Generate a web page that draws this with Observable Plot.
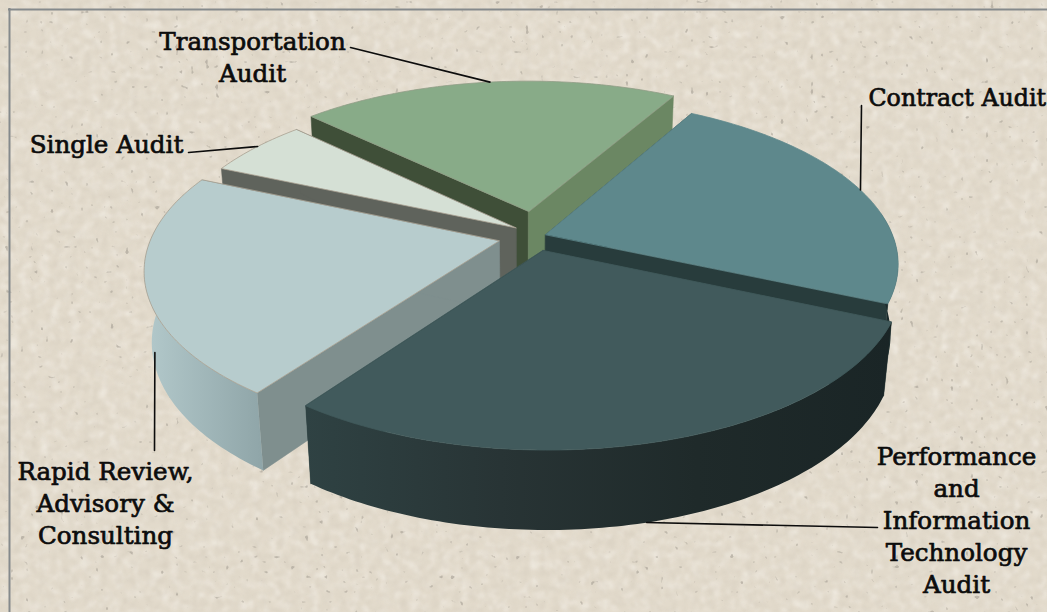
<!DOCTYPE html>
<html>
<head>
<meta charset="utf-8">
<script src="https://cdn.jsdelivr.net/npm/d3@7"></script>
<script src="https://cdn.jsdelivr.net/npm/@observablehq/plot@0.6"></script>
<style>
  html, body { margin: 0; padding: 0; background: #e3dbcd; overflow: hidden; }
  #stage { position: relative; width: 1047px; height: 612px; overflow: hidden; }
  #stage svg { position: absolute; left: 0; top: 0; }
</style>
</head>
<body>
<div id="stage">
  <!-- Mottled paper behind the chart -->
  <svg id="paper" width="1047" height="612">
    <defs>
      <filter id="mottle" x="0" y="0" width="100%" height="100%">
        <feTurbulence type="fractalNoise" baseFrequency="0.13" numOctaves="3" seed="7"/>
        <feColorMatrix type="matrix" values="0 0 0 0 0.62  0 0 0 0 0.56  0 0 0 0 0.47  1.3 1.3 0 0 -1.12"/>
        <feGaussianBlur stdDeviation="0.8"/>
      </filter>
      <filter id="flecks" x="0" y="0" width="100%" height="100%">
        <feTurbulence type="fractalNoise" baseFrequency="0.1" numOctaves="3" seed="41"/>
        <feColorMatrix type="matrix" values="0 0 0 0 0.95  0 0 0 0 0.92  0 0 0 0 0.87  1.3 1.3 0 0 -1.15"/>
        <feGaussianBlur stdDeviation="1"/>
      </filter>
      <filter id="specks" x="0" y="0" width="100%" height="100%">
        <feTurbulence type="fractalNoise" baseFrequency="0.2" numOctaves="1" seed="23"/>
        <feColorMatrix type="matrix" values="0 0 0 0 0.38  0 0 0 0 0.35  0 0 0 0 0.30  7 7 0 0 -9.2"/>
        <feGaussianBlur stdDeviation="0.7"/>
      </filter>
    </defs>
    <rect width="1047" height="612" fill="#e2dacb"/>
    <rect width="1047" height="612" filter="url(#flecks)" opacity="0.6"/>
    <rect width="1047" height="612" filter="url(#mottle)" opacity="0.45"/>
    <rect width="1047" height="612" filter="url(#specks)" opacity="0.6"/>
  </svg>
</div>
<script>
// Audit work mix, percent of the total, clockwise from the back right
const categories = ["Contract Audit", "Performance and Information Technology Audit",
  "Rapid Review, Advisory & Consulting", "Single Audit", "Transportation Audit"];
const shares = [23.4, 28.4, 21.6, 5.7, 20.9];

// Slice colours
const topColors = ["#5e888c", "#415a5c", "#b7cccd", "#d5e0d5", "#88ab88"];
const startWallColors = ["#283c3c", "#283c3c", "#7f8f8e", "#5f635c", "#3f4f38"];
const endWallColors = ["#283c3c", "#283c3c", "#7f8f8e", "#5f635c", "#6b8763"];
// Rim shading, left to right across the visible curved wall
const rimColors = [
  ["#1c2b2c", "#1c2b2c"],
  ["#2f4243", "#283435", "#1f2a2a", "#1a2526"],
  ["#b3c9cb", "#8fa5a8"],
  ["#8a9088", "#8a9088"],
  ["#5a7055", "#5a7055"]
];
const topEdges = ["#5e888c", "#415a5c", "#a89f90", "#a89f90", "#8f9c85"];

// Label text with its anchor, last baseline and size
const labelTexts = ["Transportation\nAudit", "Single Audit", "Contract Audit",
  "Rapid Review,\nAdvisory &\nConsulting", "Performance\nand\nInformation\nTechnology\nAudit"];
const labelX = [252, 106, 868, 105, 956];
const labelY = [81, 152, 105, 543, 592];
const labelAnchors = ["middle", "middle", "start", "middle", "middle"];
const labelSizes = [24.6, 24.6, 23.7, 24.6, 24.6];

// Leader lines: free end beside the label, and where on the pie the other end lands
const leaderX = [350, 188, 861, 154, 877];
const leaderY = [47, 152, 105, 450, 527];
const leaderSlice = [4, 3, 0, 2, 1];
const leaderAngle = [262.5, 214.5, -17, 160, 76];
const leaderDepth = [0, 0, 0, 0.72, 1];

// Pinhole view of the tilted pie
const view = {cx: 523, cy: 235, rx: 347, ry: 160, tilt: 0.17, height: 71, recede: 0.02};
const startAngle = -60.5;
// Each slice pulled out of the centre, in units of the pie's radius
const pull = [[0.064, -0.006], [0.056, 0.092], [-0.07, 0.034], [-0.022, -0.048], [0.015, -0.154]];
// Far slices are painted first
const paintOrder = [4, 3, 2, 0, 1];

const rad = (deg) => (deg * Math.PI) / 180;
function project(px, py, z) {
  const w = 1 - view.tilt * py + view.recede * z;
  return [view.cx + (view.rx * px) / w, view.cy + (view.ry * py + view.height * z) / w];
}
function rimPoint(i, deg, z) {
  return project(pull[i][0] + Math.cos(rad(deg)), pull[i][1] + Math.sin(rad(deg)), z);
}

// Angular extent of every slice, from its share
const extents = [];
shares.reduce((from, share, i) => {
  const to = from + (share * 360) / d3.sum(shares);
  extents[i] = [from, to];
  return to;
}, startAngle);

// Horizontal shading for the curved walls
const paperDefs = d3.select("#paper defs");
rimColors.forEach((stops, i) => {
  const g = paperDefs.append("linearGradient").attr("id", `rim${i}`)
    .attr("x1", 0).attr("x2", 1).attr("y1", 0).attr("y2", 0);
  stops.forEach((c, k) => g.append("stop")
    .attr("offset", k / (stops.length - 1)).attr("stop-color", c));
});

// Polygons in painting order
const faces = [];
function addFace(points, fill, stroke, strokeWidth) {
  const id = faces.length ? faces[faces.length - 1].id + 1 : 0;
  for (const [x, y] of points) faces.push({id, x, y, fill, stroke, strokeWidth});
}
for (const i of paintOrder) {
  const [a0, a1] = extents[i];
  const apexTop = project(pull[i][0], pull[i][1], 0);
  const apexBottom = project(pull[i][0], pull[i][1], 1);
  addFace([apexTop, rimPoint(i, a0, 0), rimPoint(i, a0, 1), apexBottom], startWallColors[i], startWallColors[i], 0.5);
  addFace([apexTop, rimPoint(i, a1, 0), rimPoint(i, a1, 1), apexBottom], endWallColors[i], endWallColors[i], 0.5);

  // Curved wall: the far part is left out, the slice's top hides whatever remains past the silhouette
  const steps = Math.ceil(a1 - a0);
  const angles = d3.range(steps + 1).map((k) => a0 + ((a1 - a0) * k) / steps);
  const facing = angles.filter((a) => Math.sin(rad(a)) > -0.15);
  if (facing.length > 1) {
    const rimFill = `url(#rim${i})`;
    addFace([...facing.map((a) => rimPoint(i, a, 0)), ...facing.slice().reverse().map((a) => rimPoint(i, a, 1))],
      rimFill, "none", 0);
  }
  addFace([apexTop, ...angles.map((a) => rimPoint(i, a, 0))], topColors[i], topEdges[i], 0.8);
}

const labelRows = labelTexts.map((text, i) => ({
  text, x: labelX[i], y: labelY[i], anchor: labelAnchors[i], size: labelSizes[i]
}));
const leaderRows = leaderX.flatMap((x, i) => {
  const [ex, ey] = rimPoint(leaderSlice[i], leaderAngle[i], leaderDepth[i]);
  return [{id: i, x, y: leaderY[i]}, {id: i, x: ex, y: ey}];
});

const textOptions = {
  x: "x", y: "y", text: "text", fontFamily: "DejaVu Serif", fontSize: "size", lineHeight: 1.3,
  lineAnchor: "bottom", fill: "#0c0c0c", stroke: "#0c0c0c", strokeWidth: 0.7
};

const chart = Plot.plot({
  width: 1047,
  height: 612,
  margin: 0,
  style: {background: "transparent"},
  x: {domain: [0, 1047], range: [0, 1047], axis: null},
  y: {domain: [0, 612], range: [0, 612], axis: null},
  color: {type: "identity"},
  marks: [
    // Thin frame along the top and left
    Plot.ruleX([9], {y1: 8, y2: 612, stroke: "#858a8c", strokeWidth: 2}),
    Plot.ruleY([9], {x1: 8, x2: 1047, stroke: "#858a8c", strokeWidth: 2}),
    Plot.line(faces, {
      x: "x", y: "y", z: "id", fill: "fill", stroke: "stroke", strokeWidth: "strokeWidth",
      curve: "linear-closed", strokeLinejoin: "round"
    }),
    Plot.line(leaderRows, {x: "x", y: "y", z: "id", stroke: "#0c0c0c", strokeWidth: 1.6}),
    Plot.text(labelRows.filter((d) => d.anchor === "middle"), {...textOptions, textAnchor: "middle"}),
    Plot.text(labelRows.filter((d) => d.anchor === "start"), {...textOptions, textAnchor: "start"})
  ]
});
document.getElementById("stage").append(chart);
</script>
</body>
</html>
